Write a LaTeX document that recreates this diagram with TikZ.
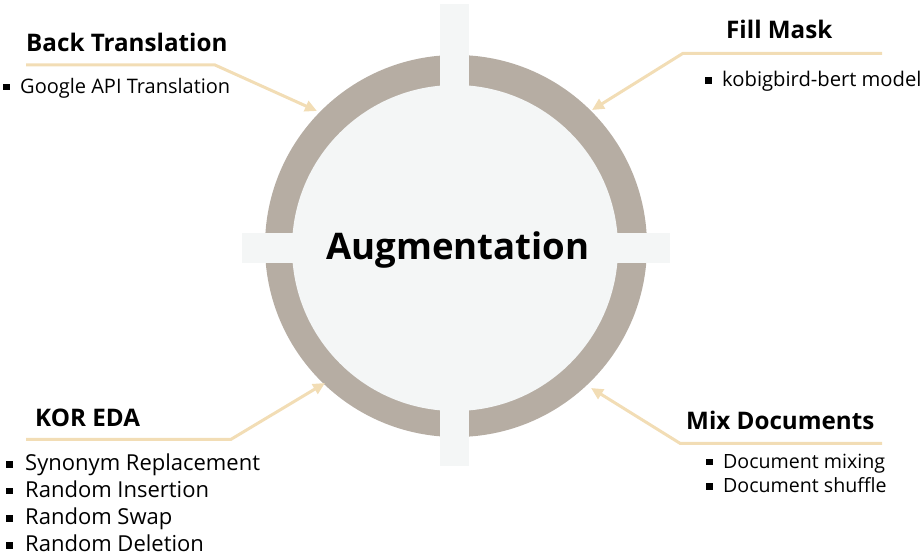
\documentclass[tikz,border=0pt]{standalone}
\usepackage{fontspec}
\setmainfont{Open Sans}
\usetikzlibrary{arrows.meta}
\definecolor{ringc}{HTML}{B6ADA3}
\definecolor{corec}{HTML}{F4F6F6}
\definecolor{linkc}{HTML}{F2DDB5}
\newcommand\bul[1][17pt]{\makebox[#1][l]{\raisebox{3pt}{\rule{6.5pt}{6.5pt}}}}
\tikzset{
  title/.style={anchor=base west, inner sep=0pt, font=\bfseries\fontsize{24.2}{28}\selectfont},
  item/.style={anchor=base west, inner sep=0pt},
  link/.style={draw=linkc, line width=3pt, -{Triangle[length=12pt,width=11pt]}},
}
\begin{document}
\begin{tikzpicture}[x=1pt,y=-1pt]
\useasboundingbox (0,0) rectangle (923,556);
% ring and cross
\fill[ringc] (456,246) circle[radius=191];
\fill[corec] (455,248) circle[radius=163];
\fill[corec] (440,4) rectangle (469,466);
\fill[corec] (242,233) rectangle (670,263);
\node[anchor=base, inner sep=0pt, font=\bfseries\fontsize{36.6}{44}\selectfont] (core) at (458,259) {Augmentation};

% Back Translation
\node[title] (bt) at (26,51.7) {Back Translation};
\node[item, font=\fontsize{20}{24}\selectfont] (bt-a) at (3,93.3) {\bul Google API Translation};
\coordinate (bt0) at (26,65);
\coordinate (bt1) at (215,65);
\coordinate (btt) at (317,111);
\draw[link] (bt0) -- (bt1) -- (btt);

% Fill Mask
\node[title] (fm) at (726,38.3) {Fill Mask};
\node[item, font=\fontsize{20.2}{24}\selectfont] (fm-a) at (705,86.7) {\bul kobigbird-bert model};
\coordinate (fm0) at (882,53.3);
\coordinate (fm1) at (683,53.3);
\coordinate (fmt) at (592,110);
\draw[link] (fm0) -- (fm1) -- (fmt);

% KOR EDA
\node[title] (ke) at (35,426.7) {KOR EDA};
\begin{scope}[every node/.style={item, font=\fontsize{22}{26.9}\selectfont}]
\node (ke-a) at (6,470.7) {\bul[19pt]Synonym Replacement};
\node (ke-b) at (6,497.4) {\bul[19pt]Random Insertion};
\node (ke-c) at (6,524.6) {\bul[19pt]Random Swap};
\node (ke-d) at (6,551.7) {\bul[19pt]Random Deletion};
\end{scope}
\coordinate (ke0) at (26,439.3);
\coordinate (ke1) at (231,439.3);
\coordinate (ket) at (325,383);
\draw[link] (ke0) -- (ke1) -- (ket);

% Mix Documents
\node[title] (md) at (686,429.3) {Mix Documents};
\begin{scope}[every node/.style={item, font=\fontsize{19.6}{24.4}\selectfont}]
\node (md-a) at (706,468.3) {\bul Document mixing};
\node (md-b) at (706,492.7) {\bul Document shuffle};
\end{scope}
\coordinate (md0) at (882,443.3);
\coordinate (md1) at (680,443.3);
\coordinate (mdt) at (591,388);
\draw[link] (md0) -- (md1) -- (mdt);
\end{tikzpicture}
\end{document}
